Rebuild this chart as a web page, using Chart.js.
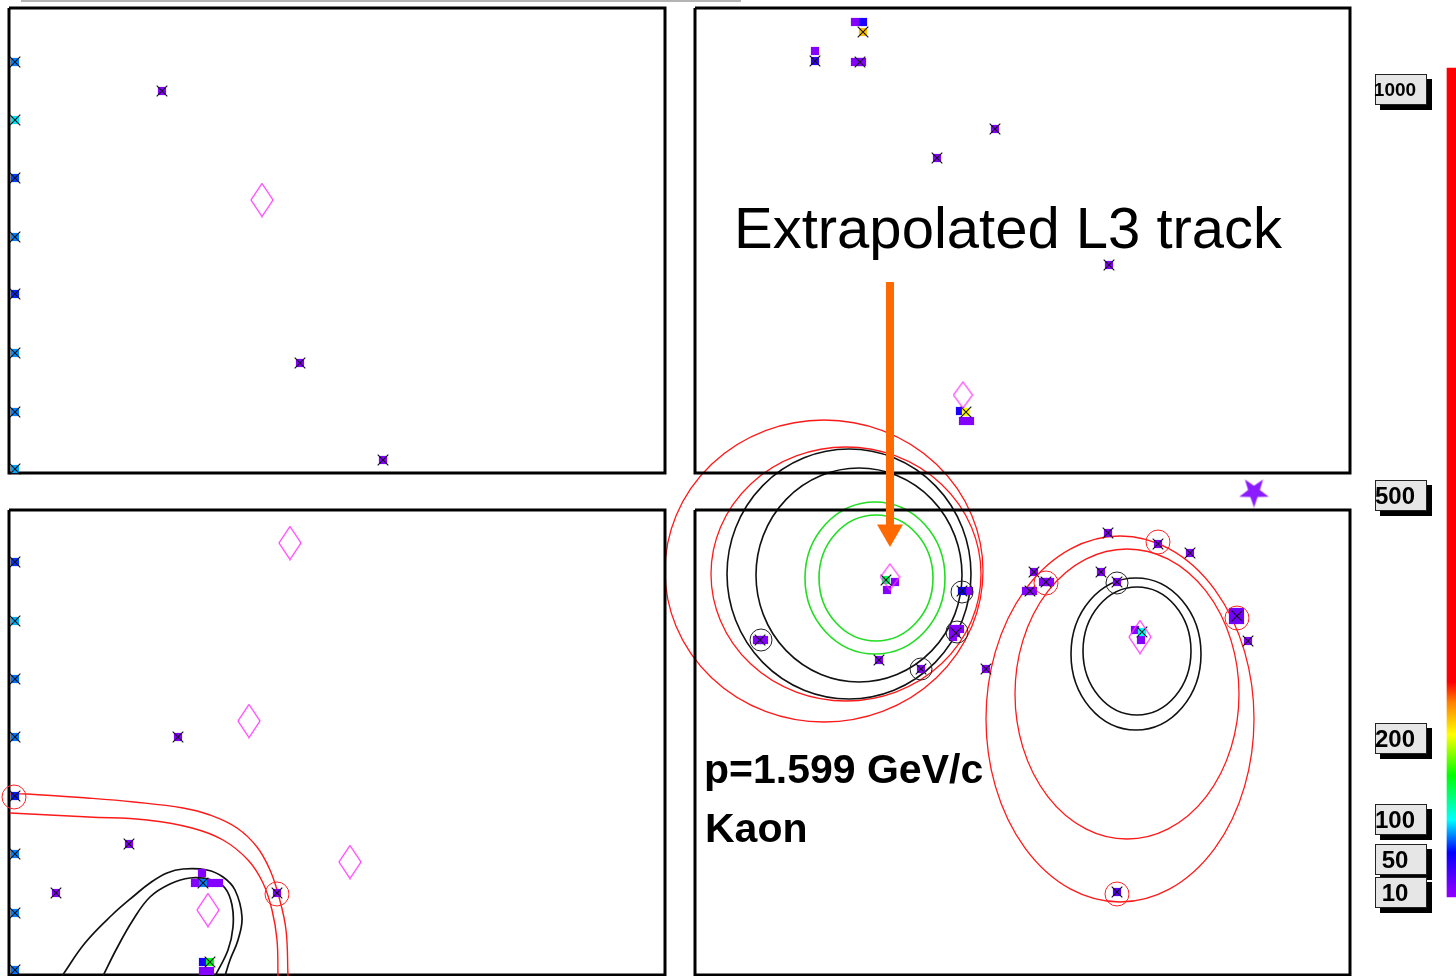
<!DOCTYPE html>
<html>
<head>
<meta charset="utf-8">
<title>RICH event display</title>
<script src="https://cdn.jsdelivr.net/npm/chart.js@4.4.1/dist/chart.umd.min.js"></script>
<style>
  html, body { margin: 0; padding: 0; background: #fff; }
  #wrap { width: 1456px; height: 976px; }
</style>
</head>
<body>
<div id="wrap"><canvas id="display" width="1456" height="976"></canvas></div>
<script>
// ---- photodetector planes (display units) ----
const panelLeft   = [9, 695, 9, 695];
const panelRight  = [665, 1350, 665, 1350];
const panelTop    = [8, 8, 510, 510];
const panelBottom = [473, 473, 975, 975];

// ---- fired pads with a cross (x, y, amplitude) ----
const hitX = [15, 15, 15, 15, 15, 15, 15, 15, 162, 300, 383,
              15, 15, 15, 15, 15, 15, 15, 15, 178, 129, 56, 277, 203, 210,
              863, 815, 860, 995, 937, 1109, 966,
              886, 962, 760, 956, 921, 879, 986, 1034, 1046, 1030, 1108, 1158, 1190,
              1101, 1117, 1142, 1237, 1248, 1117];
const hitY = [62, 120, 178, 237, 294, 353, 412, 469, 91, 363, 460,
              562, 621, 679, 737, 796, 854, 913, 970, 737, 844, 893, 893, 883, 962,
              32, 61, 62, 129, 158, 265, 412,
              580, 591, 640, 633, 669, 660, 669, 572, 582, 591, 533, 544, 553,
              572, 582, 632, 616, 641, 892];
const hitAmp = [80, 96, 70, 80, 66, 83, 80, 86, 12, 12, 12,
                68, 88, 78, 78, 64, 80, 80, 78, 12, 12, 12, 12, 80, 150,
                225, 42, 12, 12, 12, 12, 205,
                135, 55, 12, 12, 12, 12, 12, 12, 12, 12, 12, 12, 12,
                12, 12, 100, 20, 12, 30];

// ---- neighbouring pads without a cross ----
const padX = [202, 195, 211, 219, 203, 203, 210,
              855, 863, 815, 855, 862, 960, 963, 970,
              895, 887, 969, 757, 764, 953, 960, 953, 1043, 1050, 1026, 1033,
              1135, 1141, 1233, 1240, 1233, 1240];
const padY = [873, 883, 883, 883, 962, 971, 971,
              22, 22, 51, 62, 62, 411, 421, 421,
              582, 590, 591, 640, 640, 629, 629, 637, 582, 582, 591, 591,
              630, 640, 612, 612, 620, 620];
const padAmp = [12, 12, 12, 12, 50, 12, 12,
                12, 50, 12, 12, 12, 50, 12, 12,
                12, 12, 12, 12, 12, 12, 12, 12, 12, 12, 12, 12,
                12, 12, 20, 20, 20, 20];

// ---- ring centres ----
const bigCentreX = [262, 290, 249, 350, 208, 1140];
const bigCentreY = [200, 543, 721, 862, 910, 637];
const smallCentreX = [963, 890];
const smallCentreY = [395, 577];
const photonX = [1254];
const photonY = [492];

// ---- rings: [cx, cy, rx, ry] ----
const ringsRed   = [[824, 571, 159, 151], [846, 574, 135, 127], [1120, 719, 134, 183], [1127, 694, 112, 145]];
const ringsBlack = [[849, 574, 122, 125], [859, 575, 103, 107], [1136, 654, 65, 76], [1137, 651, 54, 64]];
const ringsGreen = [[875, 578, 70, 76], [876, 578, 57, 63]];

// ---- matched pads marked with small circles ----
const blackMarkX = [761, 962, 957, 921, 1117];
const blackMarkY = [640, 592, 632, 669, 583];
const redMarkX = [14, 277, 1046, 1158, 1237, 1117];
const redMarkY = [797, 894, 583, 542, 618, 894];

// ---- ring arcs crossing the lower-left plane ----
const arcRedOuterX = [10, 27, 87, 134, 183, 210, 237, 257, 270, 279, 286, 288];
const arcRedOuterY = [794, 794, 798, 802, 808, 815, 828, 847, 870, 897, 930, 976];
const arcRedInnerX = [10, 89, 147, 192, 223, 248, 263, 272, 277, 278];
const arcRedInnerY = [813, 817, 820, 828, 840, 860, 883, 910, 940, 976];
const arcBlackOuterX = [62, 85, 112, 135, 150, 167, 183, 207, 223, 235, 242, 238, 230, 225];
const arcBlackOuterY = [976, 943, 915, 895, 883, 873, 869, 870, 877, 890, 917, 940, 960, 976];
const arcBlackInnerX = [103, 117, 133, 150, 170, 190, 212, 225, 232, 233, 228, 215];
const arcBlackInnerY = [976, 948, 920, 897, 884, 878, 880, 888, 905, 927, 950, 976];

// ---- annotations ----
const arrowX = [890, 890];
const arrowY = [282, 525];
const noteText = ['Extrapolated L3 track', 'p=1.599 GeV/c', 'Kaon'];
const noteX = [734, 704, 705];
const noteY = [248, 783, 842];
const ruleX = [21, 741];
const ruleY = [1, 1];

// ---- amplitude colour scale ----
const scaleTicks = [1000, 500, 200, 100, 50, 10];
const scaleFrom = 5;
const scaleTo = 1027;

const PALETTE = [[0, 275], [15, 270], [60, 240], [100, 180], [155, 120], [205, 60], [245, 30], [270, 0]];
function ampColor(v) {
  let h = 0;
  if (v <= PALETTE[0][0]) h = PALETTE[0][1];
  else if (v >= PALETTE[PALETTE.length - 1][0]) h = 0;
  else {
    for (let i = 1; i < PALETTE.length; i++) {
      if (v <= PALETTE[i][0]) {
        const [v0, h0] = PALETTE[i - 1], [v1, h1] = PALETTE[i];
        h = h0 + (h1 - h0) * (v - v0) / (v1 - v0);
        break;
      }
    }
  }
  return 'hsl(' + h.toFixed(1) + ',100%,50%)';
}

function pts(xs, ys) { return xs.map((x, i) => ({ x: x, y: ys[i] })); }

function diamond(w, h) {
  const c = document.createElement('canvas');
  c.width = w + 2; c.height = h + 2;
  const g = c.getContext('2d');
  g.strokeStyle = '#ff33ff';
  g.lineWidth = 1.2;
  g.beginPath();
  g.moveTo(c.width / 2, 1);
  g.lineTo(c.width - 1, c.height / 2);
  g.lineTo(c.width / 2, c.height - 1);
  g.lineTo(1, c.height / 2);
  g.closePath();
  g.stroke();
  return c;
}

function star(size) {
  const c = document.createElement('canvas');
  c.width = size; c.height = size;
  const g = c.getContext('2d');
  const cx = size / 2, cy = size / 2, ro = size / 2, ri = size * 0.2;
  g.fillStyle = '#8a1cff';
  g.beginPath();
  for (let i = 0; i < 10; i++) {
    const r = i % 2 ? ri : ro;
    const a = Math.PI / 2 + i * Math.PI / 5; // point down
    const px = cx + r * Math.cos(a), py = cy + r * Math.sin(a);
    if (i === 0) g.moveTo(px, py); else g.lineTo(px, py);
  }
  g.closePath();
  g.fill();
  return c;
}

const panelSets = panelLeft.map((l, i) => ({
  type: 'line', label: 'plane ' + (i + 1), order: 9,
  data: pts([l, panelRight[i], panelRight[i], l, l],
            [panelTop[i], panelTop[i], panelBottom[i], panelBottom[i], panelTop[i]]),
  borderColor: '#000', borderWidth: 3, pointRadius: 0, tension: 0,
  borderJoinStyle: 'miter', fill: false
}));

function arc(label, xs, ys, color, width) {
  return {
    type: 'line', label: label, order: 8,
    data: pts(xs, ys), borderColor: color, borderWidth: width,
    pointRadius: 0, tension: 0.4, fill: false
  };
}

// gradient for the amplitude bar, built from the z scale once it is laid out
function scaleGradient(c) {
  const chart = c.chart, z = chart.scales.z;
  if (!z) return 'rgba(0,0,0,0)';
  const y0 = z.getPixelForValue(0), y1 = z.getPixelForValue(scaleTo);
  if (!isFinite(y0) || !isFinite(y1) || y0 === y1) return 'rgba(0,0,0,0)';
  const g = chart.ctx.createLinearGradient(0, y0, 0, y1);
  PALETTE.forEach(([v]) => g.addColorStop(v / scaleTo, ampColor(v)));
  g.addColorStop(1, ampColor(scaleTo));
  return g;
}

const ringPlugin = {
  id: 'rings',
  beforeDatasetsDraw(chart) {
    const { ctx } = chart, x = chart.scales.x, y = chart.scales.y;
    const groups = [[ringsRed, '#ff1a1a', 1.3], [ringsBlack, '#111', 1.6], [ringsGreen, '#22dd22', 1.6]];
    ctx.save();
    groups.forEach(([rings, color, lw]) => {
      ctx.strokeStyle = color;
      ctx.lineWidth = lw;
      rings.forEach(([cx, cy, rx, ry]) => {
        const px = x.getPixelForValue(cx), py = y.getPixelForValue(cy);
        const prx = Math.abs(x.getPixelForValue(cx + rx) - px);
        const pry = Math.abs(y.getPixelForValue(cy + ry) - py);
        ctx.beginPath();
        ctx.ellipse(px, py, prx, pry, 0, 0, Math.PI * 2);
        ctx.stroke();
      });
    });
    ctx.restore();
  }
};

const notePlugin = {
  id: 'notes',
  afterDatasetsDraw(chart) {
    const { ctx } = chart, x = chart.scales.x, y = chart.scales.y, z = chart.scales.z;
    const fonts = ['58px "Liberation Sans", Arial, sans-serif',
                   'bold 41px "Liberation Sans", Arial, sans-serif',
                   'bold 41px "Liberation Sans", Arial, sans-serif'];
    ctx.save();
    ctx.fillStyle = '#000';
    ctx.textBaseline = 'alphabetic';
    noteText.forEach((t, i) => {
      ctx.font = fonts[i];
      ctx.fillText(t, x.getPixelForValue(noteX[i]), y.getPixelForValue(noteY[i]));
    });

    // boxed labels of the colour scale
    const left = x.getPixelForValue(1375), w = 52, h = 31;
    scaleTicks.forEach(v => {
      const cy = Math.round(z.getPixelForValue(v));
      const top = cy - Math.round(h / 2);
      ctx.fillStyle = '#000';
      ctx.fillRect(left + 5, top + 5, w, h);
      ctx.fillStyle = '#e6e6e6';
      ctx.fillRect(left, top, w, h);
      ctx.strokeStyle = '#222';
      ctx.lineWidth = 1;
      ctx.strokeRect(left + 0.5, top + 0.5, w - 1, h - 1);
      let size = 24;
      const label = String(v);
      ctx.font = 'bold ' + size + 'px "Liberation Sans", Arial, sans-serif';
      while (ctx.measureText(label).width > 44 && size > 10) {
        size--;
        ctx.font = 'bold ' + size + 'px "Liberation Sans", Arial, sans-serif';
      }
      ctx.fillStyle = '#000';
      ctx.textAlign = 'center';
      ctx.textBaseline = 'middle';
      ctx.fillText(label, left + 20, cy + 1);
    });
    ctx.restore();
  }
};

const chart = new Chart(document.getElementById('display'), {
  type: 'scatter',
  data: {
    datasets: [
      ...panelSets,
      {
        type: 'line', label: 'rule', order: 9, data: pts(ruleX, ruleY),
        borderColor: '#b4b4b4', borderWidth: 2, pointRadius: 0
      },
      {
        type: 'bar', label: 'amplitude scale', order: 9, yAxisID: 'z',
        data: [{ x: 1452, y: [scaleFrom, scaleTo] }],
        barThickness: 10, grouped: false, borderWidth: 0,
        backgroundColor: scaleGradient
      },
      arc('red arc outer', arcRedOuterX, arcRedOuterY, '#ff1a1a', 1.4),
      arc('red arc inner', arcRedInnerX, arcRedInnerY, '#ff1a1a', 1.4),
      arc('black arc outer', arcBlackOuterX, arcBlackOuterY, '#111', 1.7),
      arc('black arc inner', arcBlackInnerX, arcBlackInnerY, '#111', 1.7),
      {
        label: 'pads', order: 6, data: pts(padX, padY),
        pointStyle: 'rect', pointRadius: 5.8, pointBorderWidth: 0,
        pointBackgroundColor: padAmp.map(ampColor)
      },
      {
        label: 'hits', order: 5, data: pts(hitX, hitY),
        pointStyle: 'rect', pointRadius: 5.8, pointBorderWidth: 0,
        pointBackgroundColor: hitAmp.map(ampColor)
      },
      {
        label: 'hit crosses', order: 4, data: pts(hitX, hitY),
        pointStyle: 'crossRot', pointRadius: 7.5, pointBorderWidth: 1.1,
        pointBorderColor: '#111'
      },
      {
        label: 'centres', order: 3, data: pts(bigCentreX, bigCentreY),
        pointStyle: diamond(22, 33)
      },
      {
        label: 'centres small', order: 3, data: pts(smallCentreX, smallCentreY),
        pointStyle: diamond(19, 26)
      },
      {
        label: 'photon', order: 3, data: pts(photonX, photonY),
        pointStyle: star(31)
      },
      {
        label: 'black marks', order: 2, data: pts(blackMarkX, blackMarkY),
        pointStyle: 'circle', pointRadius: 11, pointBorderWidth: 1,
        pointBorderColor: '#222', pointBackgroundColor: 'rgba(0,0,0,0)'
      },
      {
        label: 'red marks', order: 2, data: pts(redMarkX, redMarkY),
        pointStyle: 'circle', pointRadius: 12, pointBorderWidth: 1,
        pointBorderColor: '#ff2020', pointBackgroundColor: 'rgba(0,0,0,0)'
      },
      {
        type: 'line', label: 'arrow', order: 1, data: pts(arrowX, arrowY),
        borderColor: '#ff6a00', borderWidth: 8, borderCapStyle: 'butt', pointRadius: 0
      },
      {
        label: 'arrow head', order: 0, data: pts([arrowX[1]], [arrowY[1] + 7]),
        pointStyle: 'triangle', pointRotation: 180, pointRadius: 15,
        pointBorderWidth: 0, pointBackgroundColor: '#ff6a00'
      }
    ]
  },
  options: {
    responsive: false,
    animation: false,
    events: [],
    layout: { padding: 0, autoPadding: false },
    plugins: { legend: { display: false }, tooltip: { enabled: false } },
    scales: {
      x: { type: 'linear', min: 0, max: 1456, display: false, offset: false },
      y: { type: 'linear', min: 0, max: 976, reverse: true, display: false },
      z: { type: 'linear', position: 'right', min: -92.5, max: 1111, display: false }
    }
  },
  plugins: [ringPlugin, notePlugin]
});
// second pass so the bar gradient sees the laid-out z scale
chart.update();
</script>
</body>
</html>
